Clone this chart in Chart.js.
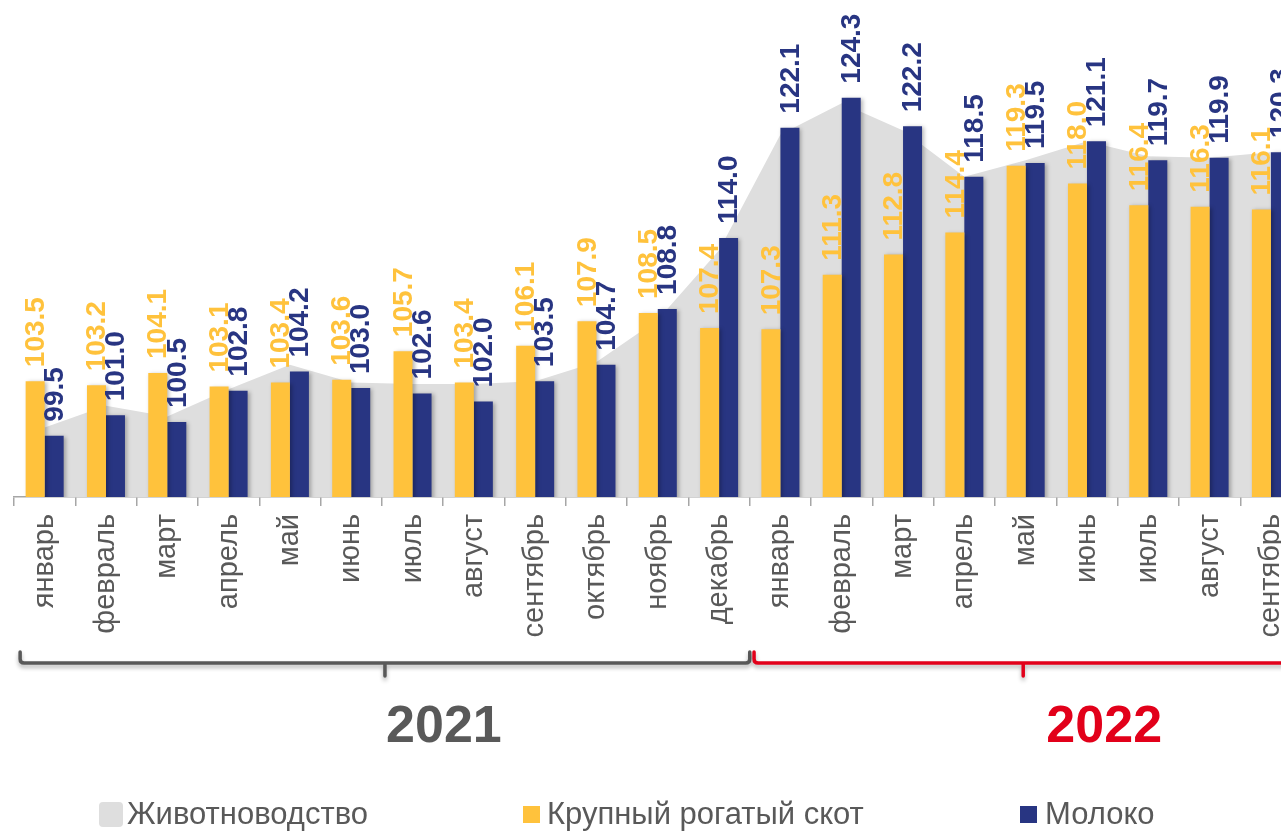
<!DOCTYPE html>
<html lang="ru">
<head>
<meta charset="utf-8">
<title>Животноводство, КРС, молоко</title>
<script src="https://cdn.jsdelivr.net/npm/chart.js@4.4.1/dist/chart.umd.min.js"></script>
<style>
  html, body { margin: 0; padding: 0; background: #fff; overflow: hidden; }
  #wrap { position: relative; width: 1281px; height: 832px; overflow: hidden; }
  #chart { position: absolute; left: 0; top: 0; }
  .legend { position: absolute; top: 797px; height: 34px; line-height: 34px; display: flex; align-items: center;
    font: 31px "Liberation Sans", Arial, sans-serif; color: #595959; white-space: nowrap; }
  .legend i { display: inline-block; }
</style>
</head>
<body>
<div id="wrap">
  <canvas id="chart" width="1314" height="832"></canvas>
  <div class="legend" style="left:99px"><i style="width:24px;height:25px;border-radius:4px;background:#dedede;margin-right:4px"></i>Животноводство</div>
  <div class="legend" style="left:523px"><i style="width:17px;height:17px;background:#ffc23c;margin-right:7px"></i>Крупный рогатый скот</div>
  <div class="legend" style="left:1020px"><i style="width:17px;height:17px;background:#283582;margin-right:8px"></i>Молоко</div>
</div>
<script>
// месяцы (2021: январь–декабрь, 2022: январь–сентябрь)
const months = ['январь', 'февраль', 'март', 'апрель', 'май', 'июнь', 'июль', 'август', 'сентябрь', 'октябрь', 'ноябрь', 'декабрь',
  'январь', 'февраль', 'март', 'апрель', 'май', 'июнь', 'июль', 'август', 'сентябрь'];
const livestock = [100.1, 101.7, 100.9, 102.9, 104.7, 103.4, 103.3, 103.3, 103.5, 104.9, 108.0, 113.1,
  121.6, 123.9, 121.9, 118.5, 119.7, 121.1, 120.0, 119.9, 120.3];
const cattle = [103.5, 103.2, 104.1, 103.1, 103.4, 103.6, 105.7, 103.4, 106.1, 107.9, 108.5, 107.4,
  107.3, 111.3, 112.8, 114.4, 119.3, 118.0, 116.4, 116.3, 116.1];
const milk = [99.5, 101.0, 100.5, 102.8, 104.2, 103.0, 102.6, 102.0, 103.5, 104.7, 108.8, 114.0,
  122.1, 124.3, 122.2, 118.5, 119.5, 121.1, 119.7, 119.9, 120.3];
const years = [
  { label: '2021', from: 0, to: 11, color: '#595959' },
  { label: '2022', from: 12, to: 20, color: '#e2001a' }
];

const FONT = '"Liberation Sans", Arial, sans-serif';

// тень у столбцов
const barShadow = {
  id: 'barShadow',
  beforeDatasetDraw(chart, args) {
    if (args.meta.type !== 'bar') return;
    const ctx = chart.ctx;
    ctx.save();
    ctx.shadowColor = 'rgba(0, 0, 0, 0.28)';
    ctx.shadowBlur = 4;
    ctx.shadowOffsetX = 2;
    ctx.shadowOffsetY = 1;
  },
  afterDatasetDraw(chart, args) {
    if (args.meta.type !== 'bar') return;
    chart.ctx.restore();
  }
};

// подписи значений над столбцами
const valueLabels = {
  id: 'valueLabels',
  afterDatasetsDraw(chart) {
    const ctx = chart.ctx;
    chart.data.datasets.forEach((ds, i) => {
      const meta = chart.getDatasetMeta(i);
      if (meta.type !== 'bar') return;
      meta.data.forEach((bar, j) => {
        ctx.save();
        ctx.translate(bar.x + 1, bar.y - 14);
        ctx.rotate(-Math.PI / 2);
        ctx.font = 'bold 28px ' + FONT;
        ctx.fillStyle = ds.backgroundColor;
        ctx.textAlign = 'left';
        ctx.textBaseline = 'middle';
        ctx.fillText(ds.data[j].toFixed(1), 0, 0);
        ctx.restore();
      });
    });
  }
};

// скобки и годы под осью
function drawBracket(ctx, x0, x1, y, color) {
  const xm = (x0 + x1) / 2;
  ctx.save();
  ctx.strokeStyle = color;
  ctx.lineWidth = 3.5;
  ctx.lineCap = 'round';
  ctx.lineJoin = 'round';
  ctx.shadowColor = 'rgba(0, 0, 0, 0.3)';
  ctx.shadowBlur = 4;
  ctx.shadowOffsetY = 3;
  ctx.beginPath();
  ctx.moveTo(x0, y - 11);
  ctx.lineTo(x0, y - 4);
  ctx.quadraticCurveTo(x0, y, x0 + 4, y);
  ctx.lineTo(x1 - 4, y);
  ctx.quadraticCurveTo(x1, y, x1, y - 4);
  ctx.lineTo(x1, y - 11);
  ctx.moveTo(xm, y);
  ctx.lineTo(xm, y + 13);
  ctx.stroke();
  ctx.restore();
}

const yearBrackets = {
  id: 'yearBrackets',
  afterDraw(chart) {
    const ctx = chart.ctx;
    const x = chart.scales.x;
    years.forEach((yr, k) => {
      const x0 = x.getPixelForValue(yr.from - 0.5 + (k === 0 ? 0.1 : 0.07));
      const x1 = x.getPixelForValue(yr.to + 0.5 - (k === 0 ? 0 : 0.15));
      drawBracket(ctx, x0, x1, 663, yr.color);
      // подпись года немного правее середины скобки
      const tx = (x0 + x1) / 2 + (k === 0 ? 59 : 81);
      ctx.save();
      ctx.font = 'bold 52px ' + FONT;
      ctx.fillStyle = yr.color;
      ctx.textAlign = 'center';
      ctx.textBaseline = 'alphabetic';
      ctx.fillText(yr.label, tx, 742);
      ctx.restore();
    });
  }
};

const ctx = document.getElementById('chart').getContext('2d');
new Chart(ctx, {
  data: {
    labels: months,
    datasets: [
      {
        type: 'line',
        label: 'Животноводство',
        data: livestock,
        backgroundColor: '#dedede',
        borderWidth: 0,
        pointRadius: 0,
        tension: 0,
        fill: 'start',
        order: 3
      },
      {
        type: 'bar',
        label: 'Крупный рогатый скот',
        data: cattle,
        backgroundColor: '#ffc23c',
        borderWidth: 0,
        categoryPercentage: 0.62,
        barPercentage: 1.0,
        order: 1
      },
      {
        type: 'bar',
        label: 'Молоко',
        data: milk,
        backgroundColor: '#283582',
        borderWidth: 0,
        categoryPercentage: 0.62,
        barPercentage: 1.0,
        order: 1
      }
    ]
  },
  options: {
    responsive: false,
    animation: false,
    layout: { padding: { top: 20, left: 14, right: 12, bottom: 185 } },
    scales: {
      x: {
        offset: true,
        afterFit(scale) { scale.height = 150; },
        grid: { display: true, drawOnChartArea: false, drawTicks: true, tickLength: 9, color: '#a6a6a6', lineWidth: 1.5 },
        border: { display: true, color: '#a6a6a6', width: 1.5 },
        ticks: {
          autoSkip: false,
          minRotation: 90,
          maxRotation: 90,
          padding: 8,
          color: '#595959',
          font: { family: FONT, size: 29 }
        }
      },
      y: {
        display: false,
        min: 95,
        max: 130
      }
    },
    plugins: {
      legend: { display: false },
      tooltip: { enabled: false }
    }
  },
  plugins: [barShadow, valueLabels, yearBrackets]
});
</script>
</body>
</html>
